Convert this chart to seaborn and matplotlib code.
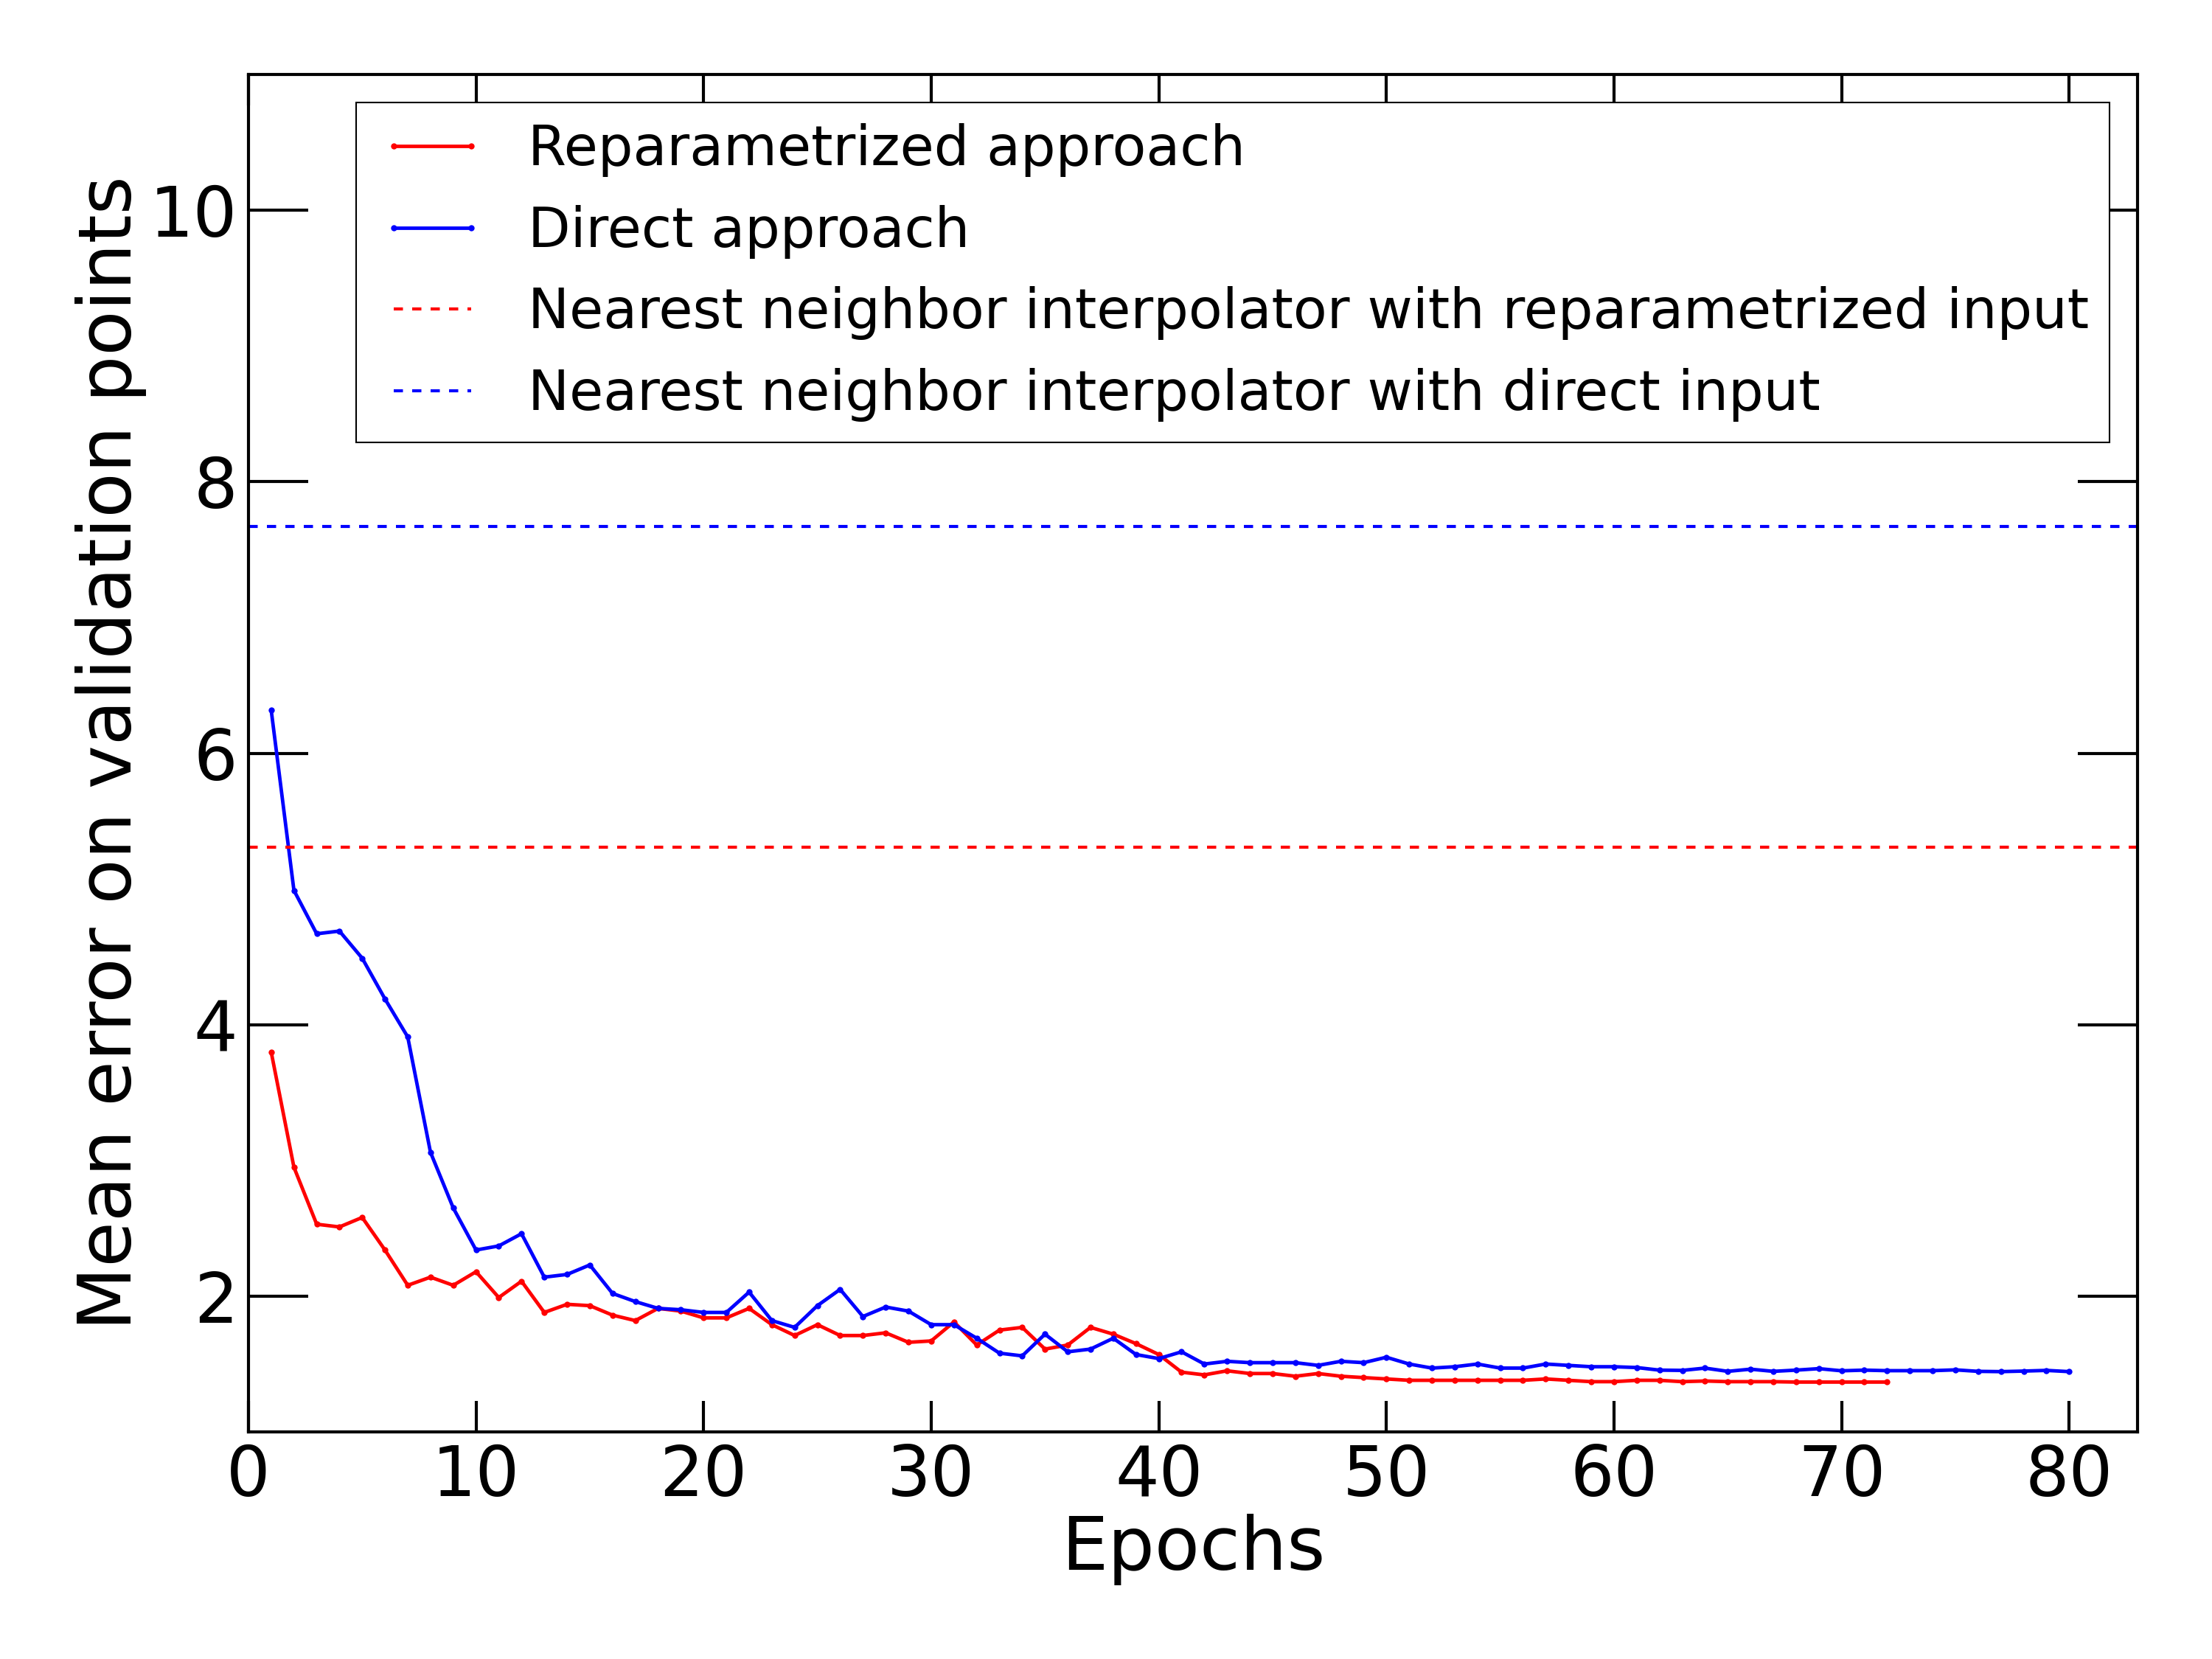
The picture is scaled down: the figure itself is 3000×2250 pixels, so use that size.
import numpy as np
import pandas as pd
import matplotlib
matplotlib.use("Agg")
import matplotlib.pyplot as plt
import seaborn as sns
from matplotlib.ticker import MultipleLocator
from matplotlib.lines import Line2D

# values
reparam_err = [3.80, 2.95, 2.53, 2.51, 2.58, 2.34, 2.08, 2.14, 2.08, 2.18,
               1.99, 2.11, 1.88, 1.94, 1.93, 1.86, 1.82, 1.91, 1.89, 1.84,
               1.84, 1.91, 1.79, 1.71, 1.79, 1.71, 1.71, 1.73, 1.66, 1.67,
               1.81, 1.64, 1.75, 1.77, 1.61, 1.64, 1.77, 1.72, 1.65, 1.57,
               1.44, 1.42, 1.45, 1.43, 1.43, 1.41, 1.43, 1.41, 1.40, 1.39,
               1.38, 1.38, 1.38, 1.38, 1.38, 1.38, 1.39, 1.38, 1.37, 1.37,
               1.38, 1.38, 1.37, 1.375, 1.37, 1.37, 1.37, 1.367, 1.367, 1.367,
               1.367, 1.367]
direct_err = [6.32, 4.99, 4.67, 4.69, 4.49, 4.19, 3.91, 3.06, 2.65, 2.34,
              2.37, 2.46, 2.14, 2.16, 2.23, 2.02, 1.96, 1.91, 1.90, 1.88,
              1.88, 2.03, 1.82, 1.77, 1.93, 2.05, 1.85, 1.92, 1.89, 1.79,
              1.79, 1.69, 1.58, 1.56, 1.72, 1.59, 1.61, 1.69, 1.57, 1.54,
              1.59, 1.50, 1.52, 1.51, 1.51, 1.51, 1.49, 1.52, 1.51, 1.55,
              1.50, 1.47, 1.48, 1.50, 1.47, 1.47, 1.50, 1.49, 1.48, 1.48,
              1.474, 1.455, 1.453, 1.47, 1.446, 1.462, 1.446, 1.455, 1.466, 1.45,
              1.455, 1.451, 1.451, 1.451, 1.457, 1.446, 1.444, 1.448, 1.453, 1.444]
nn_reparam = 5.31
nn_direct = 7.67

labels = ["Reparametrized approach", "Direct approach",
          "Nearest neighbor interpolator with reparametrized input",
          "Nearest neighbor interpolator with direct input"]

df_rep = pd.DataFrame({"Epoch": np.arange(1, len(reparam_err) + 1), "Error": reparam_err})
df_dir = pd.DataFrame({"Epoch": np.arange(1, len(direct_err) + 1), "Error": direct_err})

sns.set_style("white")
plt.rcParams["font.family"] = ["DejaVu Sans"]
plt.rcParams["text.color"] = "black"
plt.rcParams["axes.labelcolor"] = "black"
plt.rcParams["xtick.color"] = "black"
plt.rcParams["ytick.color"] = "black"

fig = plt.figure(figsize=(10, 7.5), dpi=300)
ax = fig.add_axes([0.1123, 0.1369, 0.9663 - 0.1123, 0.955 - 0.1369])

line_kw = dict(lw=1.15, marker=".", markersize=4, markeredgewidth=0)
sns.lineplot(data=df_rep, x="Epoch", y="Error", ax=ax, color="r",
             markeredgecolor="r", **line_kw)
sns.lineplot(data=df_dir, x="Epoch", y="Error", ax=ax, color="b",
             markeredgecolor="b", **line_kw)
dash = (0, (3, 3))
ax.axhline(nn_reparam, color="r", lw=1.0, linestyle=dash)
ax.axhline(nn_direct, color="b", lw=1.0, linestyle=dash)

ax.set_xlim(0, 83)
ax.set_ylim(1, 11)
ax.xaxis.set_major_locator(MultipleLocator(10))
ax.yaxis.set_major_locator(MultipleLocator(2))

for s in ax.spines.values():
    s.set_visible(True)
    s.set_linewidth(1.0)
    s.set_color("black")

ax.tick_params(axis="x", direction="in", length=10, width=1.0, top=True,
               bottom=True, labelsize=22.5, pad=3.5)
ax.tick_params(axis="y", direction="in", length=19.5, width=1.0, left=True,
               right=True, labelsize=22.5, pad=3.5)

ax.set_xlabel("Epochs", fontsize=24, labelpad=1)
ax.set_ylabel("Mean error on validation points", fontsize=24, labelpad=1)

handles = [
    Line2D([], [], color="r", lw=1.15, marker=".", markersize=4, markeredgewidth=0),
    Line2D([], [], color="b", lw=1.15, marker=".", markersize=4, markeredgewidth=0),
    Line2D([], [], color="r", lw=1.0, linestyle=dash),
    Line2D([], [], color="b", lw=1.0, linestyle=dash),
]
leg = ax.legend(handles, labels, loc="upper right", fontsize=18, numpoints=2,
                handlelength=2.0, handletextpad=0.72, borderaxespad=0.5,
                borderpad=0.38, labelspacing=0.5, fancybox=False,
                framealpha=1, frameon=True)
leg.get_frame().set_edgecolor("black")
leg.get_frame().set_linewidth(0.5)

fig.savefig("out.png", dpi=300, facecolor="white")
